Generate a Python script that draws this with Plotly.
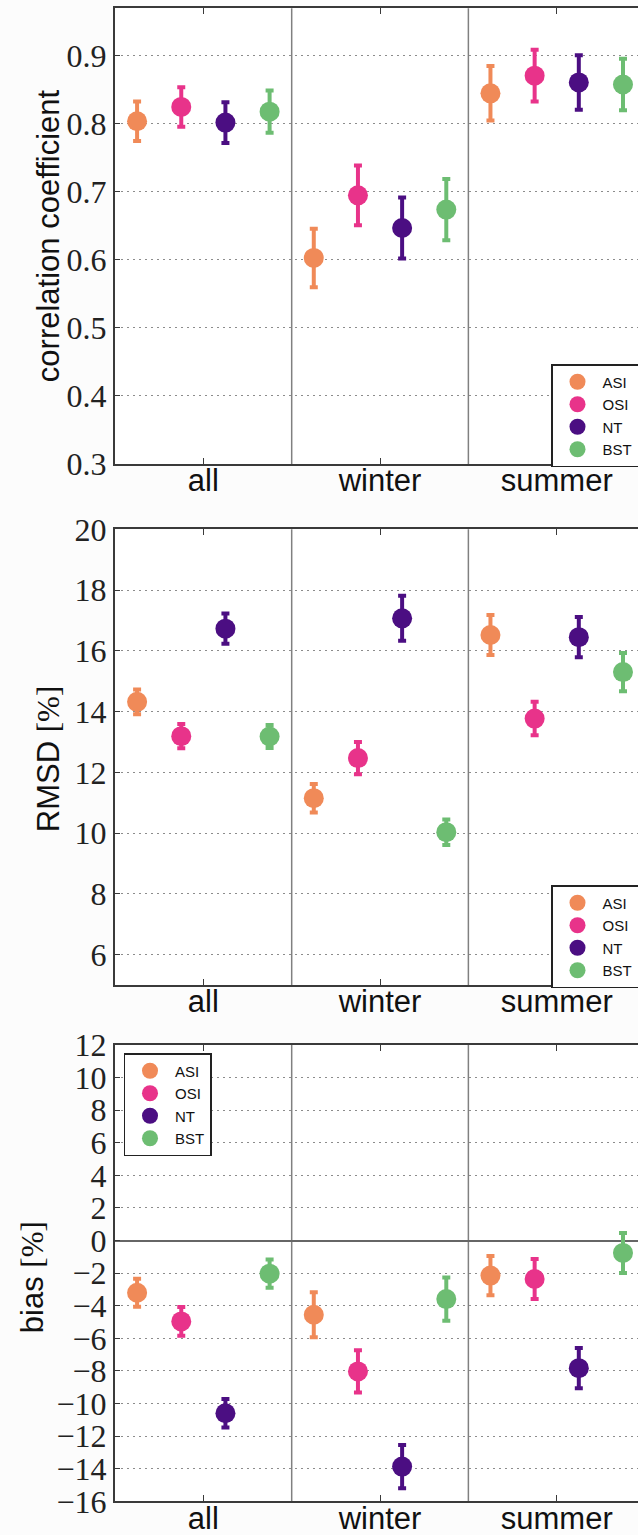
import plotly.graph_objects as go

# ---------------- data ----------------
categories = ["all", "winter", "summer"]
products = ["ASI", "OSI", "NT", "BST"]

corr_ASI = [0.804, 0.603, 0.845]
corr_OSI = [0.825, 0.695, 0.871]
corr_NT = [0.802, 0.647, 0.861]
corr_BST = [0.818, 0.674, 0.858]
corr_err_ASI = [0.029, 0.043, 0.040]
corr_err_OSI = [0.029, 0.044, 0.038]
corr_err_NT = [0.030, 0.045, 0.040]
corr_err_BST = [0.031, 0.045, 0.038]

rmsd_ASI = [14.32, 11.15, 16.52]
rmsd_OSI = [13.19, 12.47, 13.77]
rmsd_NT = [16.73, 17.07, 16.45]
rmsd_BST = [13.18, 10.03, 15.30]
rmsd_err_ASI = [0.41, 0.47, 0.66]
rmsd_err_OSI = [0.40, 0.53, 0.55]
rmsd_err_NT = [0.50, 0.74, 0.66]
rmsd_err_BST = [0.38, 0.42, 0.63]

bias_ASI = [-3.20, -4.55, -2.15]
bias_OSI = [-4.96, -8.03, -2.36]
bias_NT = [-10.60, -13.87, -7.83]
bias_BST = [-2.03, -3.59, -0.76]
bias_err_ASI = [0.86, 1.38, 1.21]
bias_err_OSI = [0.88, 1.30, 1.23]
bias_err_NT = [0.87, 1.33, 1.23]
bias_err_BST = [0.87, 1.33, 1.23]

# ---------------- style ----------------
colors = {"ASI": "#F08A58", "OSI": "#E8338A", "NT": "#4B0E82", "BST": "#6DBD72"}
offsets = {"ASI": -0.375, "OSI": -0.125, "NT": 0.125, "BST": 0.375}

panels = [
    ({"ASI": corr_ASI, "OSI": corr_OSI, "NT": corr_NT, "BST": corr_BST},
     {"ASI": corr_err_ASI, "OSI": corr_err_OSI, "NT": corr_err_NT, "BST": corr_err_BST}),
    ({"ASI": rmsd_ASI, "OSI": rmsd_OSI, "NT": rmsd_NT, "BST": rmsd_BST},
     {"ASI": rmsd_err_ASI, "OSI": rmsd_err_OSI, "NT": rmsd_err_NT, "BST": rmsd_err_BST}),
    ({"ASI": bias_ASI, "OSI": bias_OSI, "NT": bias_NT, "BST": bias_BST},
     {"ASI": bias_err_ASI, "OSI": bias_err_OSI, "NT": bias_err_NT, "BST": bias_err_BST}),
]

W, H = 638, 1535
# pixel geometry of the three plot areas (top, bottom)
px_rows = [(8.3, 464.0), (529.3, 985.0), (1045.0, 1501.3)]
x_left_px = 115.0

fig = go.Figure()
legend_names = ["legend", "legend2", "legend3"]
for pi, (vals, errs) in enumerate(panels):
    sfx = "" if pi == 0 else str(pi + 1)
    for p in products:
        xs = [ci + offsets[p] for ci in range(len(categories))]
        fig.add_trace(go.Scatter(
            x=xs, y=vals[p], mode="markers", name=p,
            xaxis="x" + sfx, yaxis="y" + sfx,
            legend=legend_names[pi],
            marker=dict(color=colors[p], size=20, line=dict(width=0)),
            error_y=dict(type="data", array=errs[p], color=colors[p],
                         thickness=4, width=4),
        ))

tick_font = dict(family="Liberation Serif, Times New Roman, serif", size=32, color="#222")
cat_font = dict(family="Liberation Sans, Arial, sans-serif", size=31, color="#111")
axis_col = "#3a3a3a"

yconf = [
    dict(range=[0.3, 0.97], tick0=0.3, dtick=0.1, tickformat=".1f"),
    dict(range=[5, 20], tick0=6, dtick=2),
    dict(range=[-16, 12], tick0=-16, dtick=2),
]

layout = dict(
    width=W, height=H,
    margin=dict(l=0, r=0, t=0, b=0, autoexpand=False),
    paper_bgcolor="#fcfcfc", plot_bgcolor="white",
    showlegend=True,
)
shapes = []
annotations = []
titles = ["correlation coefficient",
          "RMSD <span style='font-family:Liberation Serif'>[%]</span>",
          "bias <span style='font-family:Liberation Serif'>[%]</span>"]
title_x = [48, 48, 32]
title_dy = [0, 2, 4]

for pi in range(3):
    sfx = "" if pi == 0 else str(pi + 1)
    top, bot = px_rows[pi]
    dom_y = [1 - bot / H, 1 - top / H]
    layout["xaxis" + sfx] = dict(
        domain=[x_left_px / W, 1], anchor="y" + sfx,
        range=[-0.5, 2.46], automargin=False,
        tickvals=list(range(len(categories))), ticktext=categories,
        ticks="inside", ticklen=6, tickwidth=1.2, tickcolor=axis_col,
        showline=True, linecolor=axis_col, linewidth=2, mirror="ticks",
        showgrid=False, zeroline=False, tickfont=cat_font,
        ticklabelstandoff=-12,
    )
    yc = yconf[pi]
    layout["yaxis" + sfx] = dict(
        domain=dom_y, anchor="x" + sfx, automargin=False,
        range=yc["range"], tick0=yc["tick0"], dtick=yc["dtick"],
        ticks="inside", ticklen=5, tickwidth=1.2, tickcolor=axis_col,
        showline=True, linecolor=axis_col, linewidth=2,
        showgrid=True, gridcolor="#8c8c8c", griddash="2px,4px", gridwidth=1.3,
        zeroline=(pi == 2), zerolinecolor="#666", zerolinewidth=1.5,
        tickfont=tick_font,
    )
    if "tickformat" in yc:
        layout["yaxis" + sfx]["tickformat"] = yc["tickformat"]
    # vertical separators between categories
    for xv in [0.5, 1.5]:
        shapes.append(dict(type="line", xref="x" + sfx, yref="y" + sfx + " domain",
                           x0=xv, x1=xv, y0=0, y1=1,
                           line=dict(color="#808080", width=1.5), layer="below"))
    annotations.append(dict(
        text=titles[pi], xref="paper", yref="paper",
        x=title_x[pi] / W, y=1 - ((top + bot) / 2 + title_dy[pi]) / H,
        xanchor="center", yanchor="middle", textangle=-90, showarrow=False,
        font=dict(family="Liberation Sans, Arial, sans-serif", size=31, color="#111"),
    ))

leg_common = dict(
    bgcolor="white", bordercolor="#222", borderwidth=1.5,
    font=dict(family="Liberation Sans, Arial, sans-serif", size=15, color="#111"),
    itemsizing="trace", tracegroupgap=0, itemwidth=40,
)
layout["legend"] = dict(leg_common, x=551 / W, y=1 - 364 / H, xanchor="left", yanchor="top")
layout["legend2"] = dict(leg_common, x=551 / W, y=1 - 885 / H, xanchor="left", yanchor="top")
layout["legend3"] = dict(leg_common, x=123.5 / W, y=1 - 1053 / H, xanchor="left", yanchor="top")
layout["shapes"] = shapes
layout["annotations"] = annotations

fig.update_layout(**layout)
fig.write_html("out.html")
